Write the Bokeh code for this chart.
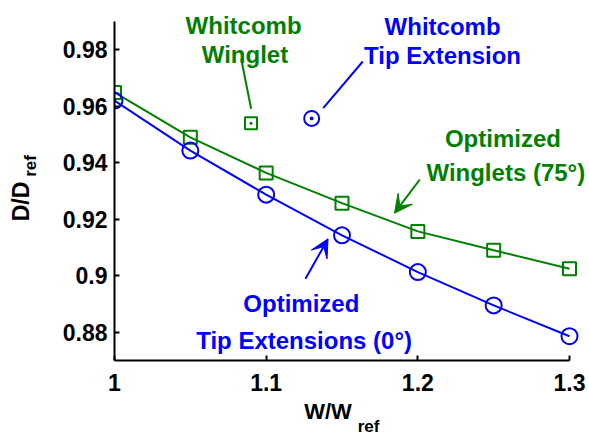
from bokeh.plotting import figure
from bokeh.models import Arrow, VeeHead, FixedTicker, Range1d, LinearAxis, Label
from bokeh.embed import file_html
from bokeh.resources import INLINE

# ---- data ----
weight_ratio = [1.0, 1.05, 1.1, 1.15, 1.2, 1.25, 1.3]
opt_winglets = [0.9649, 0.9490, 0.9364, 0.9257, 0.9157, 0.9090, 0.9025]
opt_tipext = [0.9620, 0.9443, 0.9287, 0.9143, 0.9013, 0.8895, 0.8786]
whitcomb_winglet_x = [1.09]
whitcomb_winglet_y = [0.954]
whitcomb_tip_x = [1.13]
whitcomb_tip_y = [0.9557]

x_ticks = [1.0, 1.1, 1.2, 1.3]
x_tick_labels = ["1", "1.1", "1.2", "1.3"]
y_ticks = [0.88, 0.9, 0.92, 0.94, 0.96, 0.98]
y_tick_labels = ["0.88", "0.9", "0.92", "0.94", "0.96", "0.98"]

x_label_main, x_label_sub = "W/W", "ref"
y_label_main, y_label_sub = "D/D", "ref"

GREEN = "#008000"
BLUE = "#0000ff"
FONT = "Liberation Sans"

p = figure(width=588, height=439,
           x_range=Range1d(1.0, 1.31252), y_range=Range1d(0.87, 0.99743),
           output_backend="svg", toolbar_location=None,
           min_border_left=114, min_border_right=0,
           min_border_top=0, min_border_bottom=79)
p.grid.visible = False
p.outline_line_color = None

p.xaxis.ticker = FixedTicker(ticks=x_ticks)
p.xaxis.major_label_overrides = dict(zip(x_ticks, x_tick_labels))
p.xaxis.bounds = (1.0, 1.3)
p.yaxis.ticker = FixedTicker(ticks=y_ticks)
p.yaxis.major_label_overrides = dict(zip(y_ticks, y_tick_labels))
p.yaxis.bounds = (0.87, 0.99)
for ax in (p.xaxis, p.yaxis):
    ax.axis_line_width = 2
    ax.axis_line_color = "black"
    ax.major_tick_line_width = 2
    ax.major_tick_line_color = "black"
    ax.major_tick_in = 5
    ax.major_tick_out = 0
    ax.minor_tick_line_color = None
    ax.major_label_text_font = FONT
    ax.major_label_text_font_style = "bold"
    ax.major_label_text_font_size = "23px"
    ax.major_label_text_color = "black"
p.yaxis.major_label_standoff = 7
p.xaxis.major_label_standoff = 13


def label_axis(side, pos, text, size, standoff, vertical=False):
    ax = LinearAxis(ticker=FixedTicker(ticks=[pos]),
                    major_label_overrides={pos: text},
                    axis_line_color=None, major_tick_line_color=None,
                    minor_tick_line_color=None,
                    major_tick_in=0, major_tick_out=0,
                    major_label_standoff=standoff,
                    major_label_text_font=FONT,
                    major_label_text_font_style="bold",
                    major_label_text_font_size=size,
                    major_label_text_color="black")
    if vertical:
        ax.major_label_orientation = "vertical"
    p.add_layout(ax, side)


# axis titles (main text + subscript) as label-only axes
label_axis("below", 1.1408, x_label_main, "22px", 5)
label_axis("below", 1.1675, x_label_sub, "17px", -10)
label_axis("left", 0.93885, y_label_sub, "17px", 19, vertical=True)
label_axis("left", 0.92628, y_label_main, "23px", -16, vertical=True)

# ---- series ----
p.line(weight_ratio, opt_winglets, line_color=GREEN, line_width=2)
p.scatter(weight_ratio, opt_winglets, marker="square", size=13,
          line_color=GREEN, fill_color=None, line_width=2)
p.line(weight_ratio, opt_tipext, line_color=BLUE, line_width=2)
p.scatter(weight_ratio, opt_tipext, marker="circle", size=16,
          line_color=BLUE, fill_color=None, line_width=2)

p.scatter(whitcomb_winglet_x, whitcomb_winglet_y, marker="square_dot", size=12,
          line_color=GREEN, fill_color=None, line_width=2)
p.scatter(whitcomb_tip_x, whitcomb_tip_y, marker="circle_dot", size=15,
          line_color=BLUE, fill_color=None, line_width=2)

# ---- leader lines ----
p.segment(x0=[1.0835], y0=[0.97680], x1=[1.0901], y1=[0.95910],
          line_color=GREEN, line_width=2)
p.segment(x0=[1.1637], y0=[0.97584], x1=[1.1376], y1=[0.95931],
          line_color=BLUE, line_width=2)

# ---- arrows ----
p.add_layout(Arrow(end=VeeHead(size=18, fill_color=GREEN, line_color=GREEN),
                   x_start=1.2013, y_start=0.93407, x_end=1.1846, y_end=0.92214,
                   line_color=GREEN, line_width=2))
p.add_layout(Arrow(end=VeeHead(size=18, fill_color=BLUE, line_color=BLUE),
                   x_start=1.1259, y_start=0.89892, x_end=1.1408, y_end=0.91308,
                   line_color=BLUE, line_width=2))


# ---- annotation texts ----
def lab(x, y, text, color, size="24px"):
    p.add_layout(Label(x=x, y=y, text=text, text_align="center",
                       text_baseline="alphabetic", text_font=FONT,
                       text_font_style="bold", text_font_size=size,
                       text_color=color))


lab(1.0851, 0.98858, "Whitcomb", GREEN)
lab(1.0860, 0.97821, "Winglet", GREEN)
lab(1.2163, 0.98823, "Whitcomb", BLUE)
lab(1.2163, 0.97796, "Tip Extension", BLUE)
lab(1.2561, 0.94848, "Optimized", GREEN)
lab(1.2580, 0.93665, "Winglets (75°)", GREEN)
lab(1.1232, 0.89007, "Optimized", BLUE)
lab(1.1250, 0.87707, "Tip Extensions (0°)", BLUE)

open("out.html", "w").write(file_html(p, INLINE))
